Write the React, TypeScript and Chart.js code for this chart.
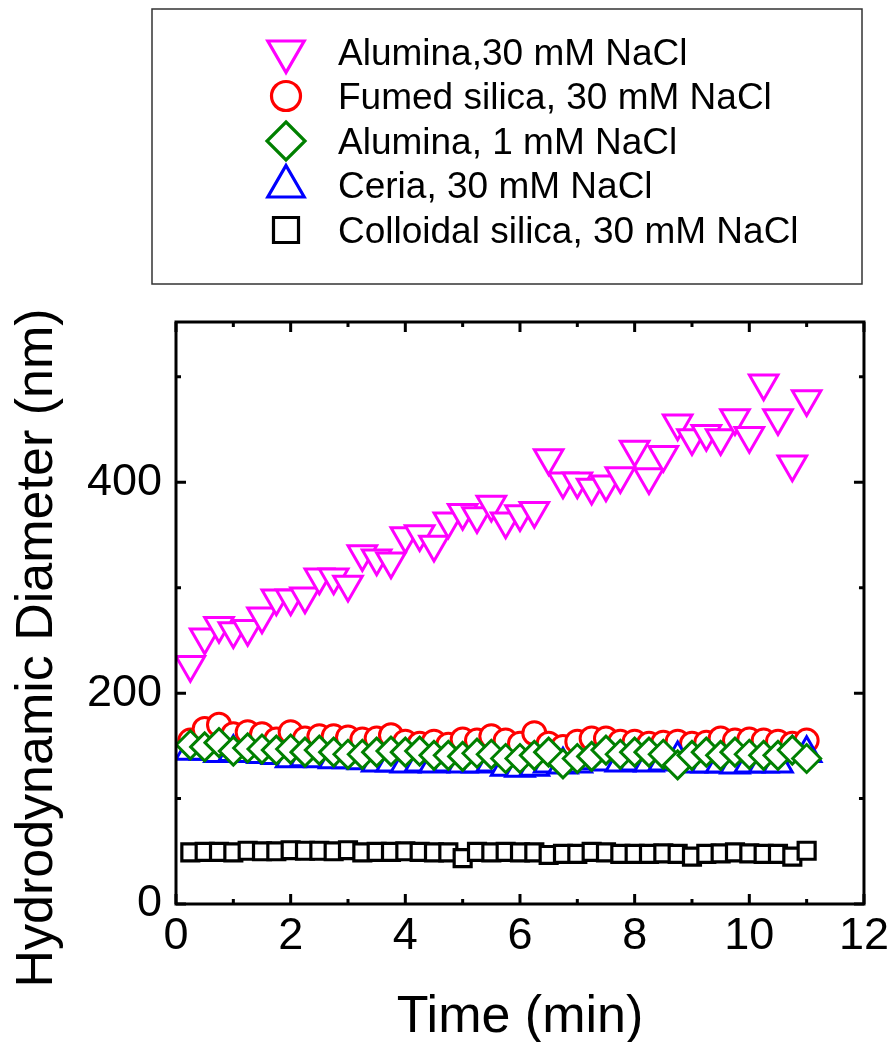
import React, { useEffect, useRef } from 'react';
import { Chart, registerables } from 'chart.js';

Chart.register(...registerables);

const FONT = '"Liberation Sans", Arial, sans-serif';

const times = [
  0.25, 0.5, 0.75, 1.0, 1.25, 1.5, 1.75, 2.0, 2.25, 2.5, 2.75, 3.0,
  3.25, 3.5, 3.75, 4.0, 4.25, 4.5, 4.75, 5.0, 5.25, 5.5, 5.75, 6.0,
  6.25, 6.5, 6.75, 7.0, 7.25, 7.5, 7.75, 8.0, 8.25, 8.5, 8.75, 9.0,
  9.25, 9.5, 9.75, 10.0, 10.25, 10.5, 10.75, 11.0,
];

const alumina30 = [
  227, 253, 264, 259, 261, 273, 290, 290, 292, 310, 310, 303,
  332, 328, 325, 349, 351, 341, 363, 371, 368, 379, 363, 370,
  373, 423, 401, 401, 395, 398, 406, 431, 405, 426, 456, 442,
  446, 442, 461, 444, 494, 461, 417, 479,
];

const fumedSilica30 = [
  155, 166, 170, 161, 163, 161, 156, 163, 157, 159, 159, 158,
  156, 157, 160, 154, 152, 154, 151, 156, 155, 159, 155, 152,
  162, 152, 149, 154, 157, 157, 154, 154, 152, 153, 154, 152,
  153, 157, 155, 156, 155, 154, 152, 155,
];

const alumina1 = [
  151, 149, 153, 145, 148, 147, 146, 147, 144, 146, 144, 142,
  142, 144, 145, 144, 145, 141, 141, 140, 143, 142, 138, 138,
  141, 144, 133, 138, 140, 146, 142, 144, 144, 142, 132, 141,
  144, 141, 144, 142, 141, 141, 146, 138,
];

const ceria30 = [
  145, 145, 143, 144, 143, 142, 141, 138, 139, 138, 137, 137,
  136, 134, 134, 133, 134, 133, 134, 133, 133, 134, 130, 129,
  130, 133, 132, 133, 136, 135, 134, 135, 134, 135, 138, 133,
  133, 133, 132, 133, 133, 133, 143, 143,
];

const colloidalSilica30 = [
  49, 49.5, 49.5, 49, 50.5, 50, 50, 51, 50.5, 50.5, 50, 51,
  49, 49.5, 49.5, 50, 49.5, 49, 49, 43.5, 49.5, 49, 49.5, 49,
  49, 46.5, 47.5, 47.5, 49.5, 49, 47.5, 47.5, 47.5, 48, 47.5, 45,
  47.5, 48, 49, 48, 47.5, 47.5, 45, 50.5,
];

const seriesLabels = [
  'Alumina,30 mM NaCl',
  'Fumed silica, 30 mM NaCl',
  'Alumina, 1 mM NaCl',
  'Ceria, 30 mM NaCl',
  'Colloidal silica, 30 mM NaCl',
];

const xMajorTicks = [0, 2, 4, 6, 8, 10, 12];
const xMinorTicks = [1, 3, 5, 7, 9, 11];
const yMajorTicks = [0, 200, 400];
const yMinorTicks = [100, 300, 500];

const xTitle = 'Time (min)';
const yTitle = 'Hydrodynamic Diameter (nm)';

type Shape = 'triangleDown' | 'circle' | 'diamond' | 'triangle' | 'square';

function pathMarker(ctx: CanvasRenderingContext2D, shape: Shape, x: number, y: number, r: number) {
  const s60 = Math.sin(Math.PI / 3);
  ctx.beginPath();
  if (shape === 'triangleDown') {
    ctx.moveTo(x, y + r);
    ctx.lineTo(x - r * s60, y - r / 2);
    ctx.lineTo(x + r * s60, y - r / 2);
    ctx.closePath();
  } else if (shape === 'triangle') {
    ctx.moveTo(x, y - r);
    ctx.lineTo(x + r * s60, y + r / 2);
    ctx.lineTo(x - r * s60, y + r / 2);
    ctx.closePath();
  } else if (shape === 'circle') {
    ctx.arc(x, y, r, 0, Math.PI * 2);
  } else if (shape === 'diamond') {
    ctx.moveTo(x, y - r);
    ctx.lineTo(x + r, y);
    ctx.lineTo(x, y + r);
    ctx.lineTo(x - r, y);
    ctx.closePath();
  } else {
    ctx.rect(x - r, y - r, 2 * r, 2 * r);
  }
}

export default function App() {
  const canvasRef = useRef<HTMLCanvasElement | null>(null);

  useEffect(() => {
    const canvas = canvasRef.current;
    if (!canvas) return;

    const mk = (data: number[]) => data.map((v, i) => ({ x: times[i], y: v }));

    const legendShapes: Shape[] = ['triangleDown', 'circle', 'diamond', 'triangle', 'square'];
    const legendColors = ['#FF00FF', '#FF0000', '#008000', '#0000FF', '#000000'];
    const legendSizes = [21, 14.5, 19, 21, 12.5];
    const legendRowY = [51.5, 96, 141, 186.5, 230];
    const legendBaseline = [65, 108.5, 154, 197.5, 243];

    const overlay = {
      id: 'overlay',
      afterDraw(chart: any) {
        const ctx: CanvasRenderingContext2D = chart.ctx;
        const { left, right, top, bottom } = chart.chartArea;
        const xs = chart.scales.x;
        const ys = chart.scales.y;
        ctx.save();
        ctx.strokeStyle = '#000';
        ctx.lineWidth = 3;
        ctx.lineCap = 'butt';
        const tickX = (vals: number[], len: number) => {
          vals.forEach((v) => {
            const px = xs.getPixelForValue(v);
            ctx.beginPath();
            ctx.moveTo(px, bottom);
            ctx.lineTo(px, bottom - len);
            ctx.moveTo(px, top);
            ctx.lineTo(px, top + len);
            ctx.stroke();
          });
        };
        const tickY = (vals: number[], len: number) => {
          vals.forEach((v) => {
            const py = ys.getPixelForValue(v);
            ctx.beginPath();
            ctx.moveTo(left, py);
            ctx.lineTo(left + len, py);
            ctx.moveTo(right, py);
            ctx.lineTo(right - len, py);
            ctx.stroke();
          });
        };
        tickX(xMajorTicks, 10);
        tickX(xMinorTicks, 5);
        tickY(yMajorTicks, 10);
        tickY(yMinorTicks, 5);
        ctx.lineJoin = 'miter';
        ctx.strokeRect(left, top, right - left, bottom - top);

        ctx.fillStyle = '#000';
        ctx.font = `52px ${FONT}`;
        ctx.textAlign = 'center';
        ctx.textBaseline = 'alphabetic';
        ctx.fillText(xTitle, (left + right) / 2, 1032);
        ctx.save();
        ctx.translate(52, 648);
        ctx.rotate(-Math.PI / 2);
        ctx.fillText(yTitle, 0, 0);
        ctx.restore();

        ctx.lineWidth = 1.5;
        ctx.strokeStyle = '#333';
        ctx.strokeRect(152, 9, 710, 275);
        ctx.font = `37px ${FONT}`;
        ctx.textAlign = 'left';
        seriesLabels.forEach((label, i) => {
          ctx.lineWidth = 3.2;
          ctx.strokeStyle = legendColors[i];
          ctx.fillStyle = '#fff';
          pathMarker(ctx, legendShapes[i], 286, legendRowY[i], legendSizes[i]);
          ctx.fill();
          ctx.stroke();
          ctx.fillStyle = '#000';
          ctx.fillText(label, 338, legendBaseline[i]);
        });
        ctx.restore();
      },
    };

    const chart = new Chart(canvas, {
      type: 'scatter',
      data: {
        datasets: [
          {
            label: seriesLabels[0],
            data: mk(alumina30),
            pointStyle: 'triangle',
            rotation: 180,
            pointRadius: 16.5,
            borderColor: '#FF00FF',
            backgroundColor: '#FFFFFF',
            borderWidth: 3,
            order: 0,
          },
          {
            label: seriesLabels[1],
            data: mk(fumedSilica30),
            pointStyle: 'circle',
            pointRadius: 11.5,
            borderColor: '#FF0000',
            backgroundColor: '#FFFFFF',
            borderWidth: 3,
            order: 3,
          },
          {
            label: seriesLabels[2],
            data: mk(alumina1),
            pointStyle: 'rectRot',
            pointRadius: 14,
            borderColor: '#008000',
            backgroundColor: '#FFFFFF',
            borderWidth: 3,
            order: 1,
          },
          {
            label: seriesLabels[3],
            data: mk(ceria30),
            pointStyle: 'triangle',
            pointRadius: 16.5,
            borderColor: '#0000FF',
            backgroundColor: '#FFFFFF',
            borderWidth: 3,
            order: 2,
          },
          {
            label: seriesLabels[4],
            data: mk(colloidalSilica30),
            pointStyle: 'rect',
            pointRadius: 12,
            borderColor: '#000000',
            backgroundColor: '#FFFFFF',
            borderWidth: 3.2,
            order: 4,
          },
        ] as any,
      },
      options: {
        responsive: false,
        maintainAspectRatio: false,
        devicePixelRatio: 1,
        animation: false,
        events: [],
        layout: { padding: { top: 322, right: 31, left: 0, bottom: 0 } },
        plugins: {
          legend: { display: false },
          tooltip: { enabled: false },
        },
        scales: {
          x: {
            type: 'linear',
            position: 'bottom',
            min: 0,
            max: 12,
            grid: { display: false, drawTicks: false },
            border: { display: false },
            ticks: {
              color: '#000',
              font: { size: 45, family: FONT },
              padding: 6,
              maxRotation: 0,
              autoSkip: false,
            },
            afterBuildTicks: (s: any) => {
              s.ticks = xMajorTicks.map((v) => ({ value: v }));
            },
            afterFit: (s: any) => {
              s.height = 138;
            },
          },
          y: {
            type: 'linear',
            position: 'left',
            min: 0,
            max: 552,
            grid: { display: false, drawTicks: false },
            border: { display: false },
            ticks: {
              color: '#000',
              font: { size: 45, family: FONT },
              padding: 14,
              autoSkip: false,
            },
            afterBuildTicks: (s: any) => {
              s.ticks = yMajorTicks.map((v) => ({ value: v }));
            },
            afterFit: (s: any) => {
              s.width = 176;
            },
          },
        },
      } as any,
      plugins: [overlay],
    });

    return () => chart.destroy();
  }, []);

  return (
    <div style={{ position: 'absolute', left: 0, top: 0, width: 895, height: 1042, background: '#fff' }}>
      <canvas ref={canvasRef} width={895} height={1042} style={{ display: 'block' }} />
    </div>
  );
}
